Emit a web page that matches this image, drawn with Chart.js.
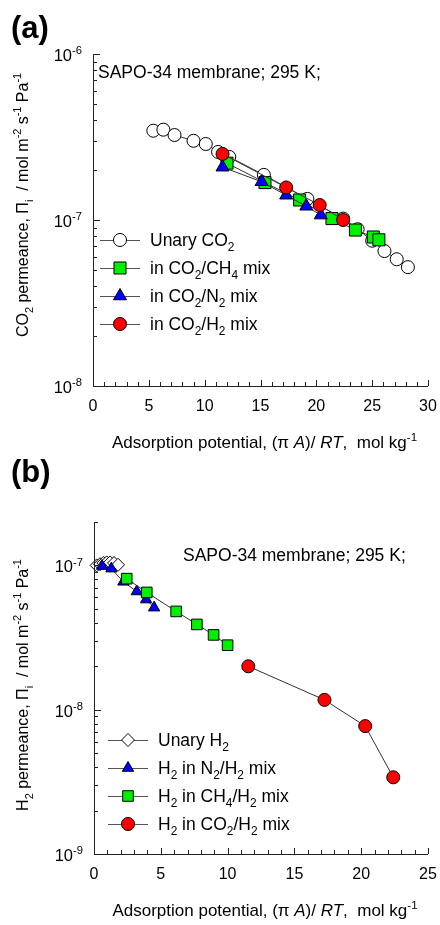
<!DOCTYPE html>
<html>
<head>
<meta charset="utf-8">
<script src="https://cdn.jsdelivr.net/npm/chart.js@4/dist/chart.umd.min.js"></script>
<style>
  body { margin: 0; background: #fff; }
  canvas { position: absolute; left: 0; }
</style>
</head>
<body>
<canvas id="chartA" width="440" height="470" style="top:0"></canvas>
<canvas id="chartB" width="440" height="475" style="top:450px"></canvas>
<script>
// ---- panel (a): CO2 permeance vs adsorption potential ----
const potA_unary = [5.4, 6.3, 7.3, 9.0, 10.1, 11.2, 12.2, 15.3, 19.2, 22.4, 23.7, 25.0, 26.1, 27.2, 28.2];
const permA_unary = [3.45e-7, 3.5e-7, 3.25e-7, 3.0e-7, 2.87e-7, 2.57e-7, 2.4e-7, 1.87e-7, 1.34e-7, 1.02e-7, 8.8e-8, 7.5e-8, 6.5e-8, 5.8e-8, 5.2e-8];
const potA_ch4 = [12.0, 15.4, 18.5, 21.4, 23.5, 25.1, 25.6];
const permA_ch4 = [2.2e-7, 1.68e-7, 1.32e-7, 1.02e-7, 8.7e-8, 7.9e-8, 7.6e-8];
const potA_n2 = [11.6, 15.1, 17.3, 19.1, 20.4];
const permA_n2 = [2.08e-7, 1.7e-7, 1.41e-7, 1.21e-7, 1.07e-7];
const potA_h2 = [11.6, 17.3, 20.3, 22.4];
const permA_h2 = [2.5e-7, 1.57e-7, 1.23e-7, 1.0e-7];
const labelsA = ['Unary CO_{2}', 'in CO_{2}/CH_{4} mix', 'in CO_{2}/N_{2} mix', 'in CO_{2}/H_{2} mix'];

// ---- panel (b): H2 permeance vs adsorption potential ----
const potB_unary = [0.2, 0.45, 0.7, 0.95, 1.2, 1.5, 1.8];
const permB_unary = [1.0e-7, 1.02e-7, 1.04e-7, 1.05e-7, 1.05e-7, 1.04e-7, 1.01e-7];
const potB_n2 = [0.6, 1.3, 2.2, 3.2, 3.9, 4.5];
const permB_n2 = [9.9e-8, 9.5e-8, 7.7e-8, 6.6e-8, 5.8e-8, 5.1e-8];
const potB_ch4 = [2.45, 3.95, 6.15, 7.7, 8.95, 10.0];
const permB_ch4 = [8.1e-8, 6.5e-8, 4.8e-8, 3.9e-8, 3.3e-8, 2.8e-8];
const potB_h2 = [11.55, 17.25, 20.3, 22.4];
const permB_h2 = [2.0e-8, 1.17e-8, 7.7e-9, 3.4e-9];
const labelsB = ['Unary H_{2}', 'H_{2} in N_{2}/H_{2} mix', 'H_{2} in CH_{4}/H_{2} mix', 'H_{2} in CO_{2}/H_{2} mix'];

const xTicksA = [0, 5, 10, 15, 20, 25, 30];
const xTicksB = [0, 5, 10, 15, 20, 25];

const FONT = '"Liberation Sans", Arial, sans-serif';
const xTitle = 'Adsorption potential, (\u03c0 *{A})/ *{RT},  mol kg^{-1}';

// small markup: _{sub} ^{sup} *{italic}
const parseRich = (str) => {
  const out = [];
  const re = /([_^*])\{([^}]*)\}/g;
  let last = 0, m;
  while ((m = re.exec(str))) {
    if (m.index > last) out.push([str.slice(last, m.index), '']);
    out.push([m[2], m[1] === '_' ? 'sub' : m[1] === '^' ? 'sup' : 'it']);
    last = re.lastIndex;
  }
  if (last < str.length) out.push([str.slice(last), '']);
  return out;
};

const drawRich = (ctx, str, x, y, size, align) => {
  const parts = parseRich(str);
  let w = 0;
  const fonts = parts.map(p => {
    const s = (p[1] === 'sub' || p[1] === 'sup') ? size * 0.68 : size;
    const f = (p[1] === 'it' ? 'italic ' : '') + s + 'px ' + FONT;
    ctx.font = f;
    const pw = ctx.measureText(p[0]).width;
    w += pw;
    return { f, pw };
  });
  let cx = align === 'center' ? x - w / 2 : align === 'right' ? x - w : x;
  ctx.textAlign = 'left';
  ctx.textBaseline = 'alphabetic';
  parts.forEach((p, i) => {
    ctx.font = fonts[i].f;
    const dy = p[1] === 'sub' ? size * 0.3 : p[1] === 'sup' ? -size * 0.42 : 0;
    ctx.fillText(p[0], cx, y + dy);
    cx += fonts[i].pw;
  });
};

const toPts = (xs, ys) => xs.map((v, i) => ({ x: v, y: ys[i] }));

const series = (label, xs, ys, style, fill, radius, order) => ({
  label: label,
  data: toPts(xs, ys),
  showLine: true,
  borderColor: '#333',
  borderWidth: 1,
  tension: 0,
  pointStyle: style,
  pointRadius: radius,
  pointBackgroundColor: fill,
  pointBorderColor: '#000',
  pointBorderWidth: 1,
  order: order,
  clip: false
});

// axes, inward ticks, labels, titles and legend drawn over the chart
const decor = (o) => ({
  id: 'decor',
  afterDraw(chart) {
    const ctx = chart.ctx;
    const a = chart.chartArea;
    const xs = chart.scales.x, ys = chart.scales.y;
    ctx.save();
    ctx.strokeStyle = '#222';
    ctx.fillStyle = '#000';
    ctx.lineWidth = 1;

    // axis lines
    ctx.beginPath();
    ctx.moveTo(Math.round(a.left) + 0.5, a.top);
    ctx.lineTo(Math.round(a.left) + 0.5, Math.round(a.bottom) + 0.5);
    ctx.lineTo(a.right, Math.round(a.bottom) + 0.5);
    ctx.stroke();

    // x ticks every 1 unit
    ctx.beginPath();
    for (let v = xs.min; v <= xs.max; v++) {
      const px = Math.round(xs.getPixelForValue(v)) + 0.5;
      const len = v % 5 === 0 ? 6 : 4;
      ctx.moveTo(px, a.bottom);
      ctx.lineTo(px, a.bottom - len);
    }
    // y ticks, decades and minor
    const e0 = Math.floor(Math.log10(ys.min) + 1e-9), e1 = Math.ceil(Math.log10(ys.max) - 1e-9);
    for (let e = e0; e <= e1; e++) {
      for (let m = 1; m <= 9; m++) {
        const v = m * Math.pow(10, e);
        if (v < ys.min * 0.999 || v > ys.max * 1.001) continue;
        const py = Math.round(ys.getPixelForValue(v)) + 0.5;
        ctx.moveTo(a.left, py);
        ctx.lineTo(a.left + (m === 1 ? 7 : 4), py);
      }
    }
    ctx.stroke();

    // tick labels
    ctx.font = '16px ' + FONT;
    ctx.textAlign = 'center';
    ctx.textBaseline = 'middle';
    o.xTicks.forEach(v => ctx.fillText(String(v), xs.getPixelForValue(v), a.bottom + 21));
    for (let e = e0; e <= e1; e++) {
      const v = Math.pow(10, e);
      if (v < ys.min * 0.999 || v > ys.max * 1.001) continue;
      drawRich(ctx, '10^{' + e + '}', a.left - 11, ys.getPixelForValue(v) + 7, 16.5, 'right');
    }

    // axis titles
    drawRich(ctx, xTitle, (a.left + a.right) / 2 + 4, a.bottom + 62, 17, 'center');
    ctx.save();
    ctx.translate(o.yTitleX, (a.top + a.bottom) / 2 + o.yTitleShift);
    ctx.rotate(-Math.PI / 2);
    drawRich(ctx, o.yTitle, 0, 6, 16, 'center');
    ctx.restore();

    // panel label and note
    ctx.font = 'bold 31px ' + FONT;
    ctx.textAlign = 'left';
    ctx.textBaseline = 'alphabetic';
    ctx.fillText(o.label, 11, o.labelY);
    drawRich(ctx, o.note, o.noteX, o.noteY, 17.5, 'left');

    // legend
    o.legend.forEach((lbl, i) => {
      const ds = chart.data.datasets[i];
      const y = o.legendY + i * 28;
      ctx.strokeStyle = '#555';
      ctx.lineWidth = 1;
      ctx.beginPath();
      ctx.moveTo(o.legendX, y + 0.5);
      ctx.lineTo(o.legendX + 40, y + 0.5);
      ctx.stroke();
      ctx.fillStyle = ds.pointBackgroundColor;
      ctx.strokeStyle = '#000';
      Chart.helpers.drawPoint(ctx, { pointStyle: ds.pointStyle, radius: ds.pointRadius, rotation: 0, borderWidth: 1 }, o.legendX + 20, y);
      ctx.fillStyle = '#000';
      drawRich(ctx, lbl, o.legendX + 50, y + 6, 17.5, 'left');
    });
    ctx.restore();
  }
});

const makeChart = (id, datasets, o) => new Chart(document.getElementById(id), {
  type: 'line',
  data: { datasets: datasets },
  options: {
    responsive: false,
    animation: false,
    events: [],
    layout: { padding: o.padding, autoPadding: false },
    plugins: { legend: { display: false }, tooltip: { enabled: false } },
    scales: {
      x: {
        type: 'linear', min: 0, max: o.xMax,
        grid: { display: false, drawTicks: false },
        border: { display: false },
        ticks: { display: false }
      },
      y: {
        type: 'logarithmic', min: o.yMin, max: o.yMax,
        grid: { display: false, drawTicks: false },
        border: { display: false },
        ticks: { display: false }
      }
    }
  },
  plugins: [decor(o)]
});

makeChart('chartA', [
  series(labelsA[0], potA_unary, permA_unary, 'circle', '#fff', 6.5, 4),
  series(labelsA[1], potA_ch4, permA_ch4, 'rect', '#00f000', 8.5, 3),
  series(labelsA[2], potA_n2, permA_n2, 'triangle', '#0000ff', 7.5, 2),
  series(labelsA[3], potA_h2, permA_h2, 'circle', '#ff0000', 6.5, 1)
], {
  padding: { left: 93, right: 12, top: 54, bottom: 84 },
  xMax: 30, yMin: 1e-8, yMax: 1e-6, xTicks: xTicksA,
  label: '(a)', labelY: 38,
  note: 'SAPO-34 membrane; 295 K;', noteX: 98, noteY: 78,
  yTitle: 'CO_{2} permeance, \u03a0_{i}  / mol m^{-2} s^{-1} Pa^{-1}', yTitleX: 22, yTitleShift: -15,
  legend: labelsA, legendX: 100, legendY: 240
});

makeChart('chartB', [
  series(labelsB[0], potB_unary, permB_unary, 'rectRot', '#fff', 6.5, 4),
  series(labelsB[1], potB_n2, permB_n2, 'triangle', '#0000ff', 6.5, 3),
  series(labelsB[2], potB_ch4, permB_ch4, 'rect', '#00f000', 7.5, 2),
  series(labelsB[3], potB_h2, permB_h2, 'circle', '#ff0000', 6.5, 1)
], {
  padding: { left: 94, right: 12, top: 72, bottom: 71 },
  xMax: 25, yMin: 1e-9, yMax: 2e-7, xTicks: xTicksB,
  label: '(b)', labelY: 32,
  note: 'SAPO-34 membrane; 295 K;', noteX: 183, noteY: 111,
  yTitle: 'H_{2} permeance, \u03a0_{i}  / mol m^{-2} s^{-1} Pa^{-1}', yTitleX: 22, yTitleShift: -3,
  legend: labelsB, legendX: 108, legendY: 290
});
</script>
</body>
</html>
